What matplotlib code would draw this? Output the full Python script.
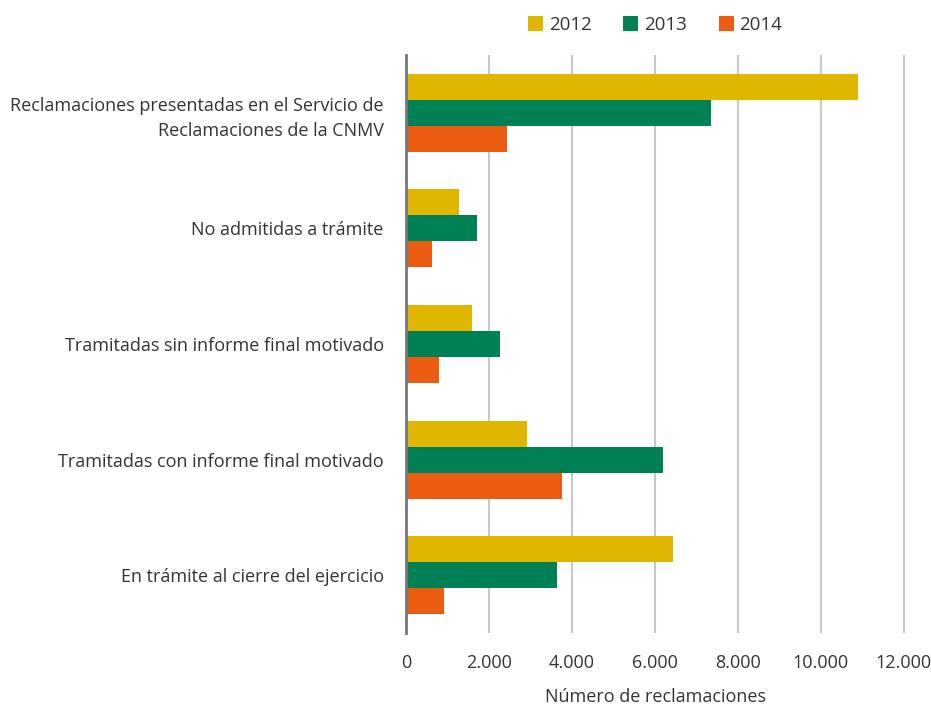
import matplotlib
matplotlib.use("Agg")
import matplotlib.pyplot as plt
import numpy as np
from matplotlib.ticker import FuncFormatter
from matplotlib.patches import Patch

categories = [
    "Reclamaciones presentadas en el Servicio de\nReclamaciones de la CNMV",
    "No admitidas a trámite",
    "Tramitadas sin informe final motivado",
    "Tramitadas con informe final motivado",
    "En trámite al cierre del ejercicio",
]
years = ["2012", "2013", "2014"]
v2012 = [10900, 1277, 1590, 2916, 6435]
v2013 = [7350, 1711, 2265, 6194, 3639]
v2014 = [2434, 627, 795, 3760, 916]
colors = ["#DFB600", "#008055", "#E95C11"]
xticks = [0, 2000, 4000, 6000, 8000, 10000, 12000]

plt.rcParams['font.family'] = ['Open Sans', 'DejaVu Sans']
text_color = "#333333"

fig = plt.figure(figsize=(9.31, 7.08), dpi=100)
ax = fig.add_axes([406/931, 1-633/708, (905-406)/931, (633-55)/708])

n = len(categories)
y = np.arange(n)
h = 0.225
for i, (vals, c) in enumerate(zip([v2012, v2013, v2014], colors)):
    ax.barh(y + (i - 1) * h, vals, height=h, color=c, zorder=3, label=years[i])

ax.set_ylim(n - 0.5, -0.5)
ax.set_xlim(0, 12030)
ax.set_xticks(xticks)
ax.xaxis.set_major_formatter(FuncFormatter(lambda v, p: f"{int(v):,}".replace(",", ".")))
ax.grid(axis='x', color="#c8c8c8", linewidth=1.5, zorder=0)
ax.set_yticks(y)
ax.set_yticklabels(categories, fontsize=13.0, color=text_color, linespacing=1.5)
ax.tick_params(axis='y', length=0, pad=16)
ax.tick_params(axis='x', length=0, pad=15, labelsize=13, labelcolor=text_color)
for s in ['top', 'right', 'bottom']:
    ax.spines[s].set_visible(False)
ax.spines['left'].set_color("#777777")
ax.spines['left'].set_linewidth(2)
ax.spines['left'].set_zorder(4)
ax.set_xlabel("Número de reclamaciones", fontsize=13, color=text_color, labelpad=12)

handles = [Patch(facecolor=c, edgecolor='none') for c in colors]
fig.legend(handles, years, loc='center', bbox_to_anchor=(655/931, 1-25/708), ncol=3,
           frameon=False, fontsize=13.5, handlelength=0.8, handleheight=0.8,
           columnspacing=1.7, handletextpad=0.3, labelcolor=text_color)

fig.savefig("out.png", dpi=100)
